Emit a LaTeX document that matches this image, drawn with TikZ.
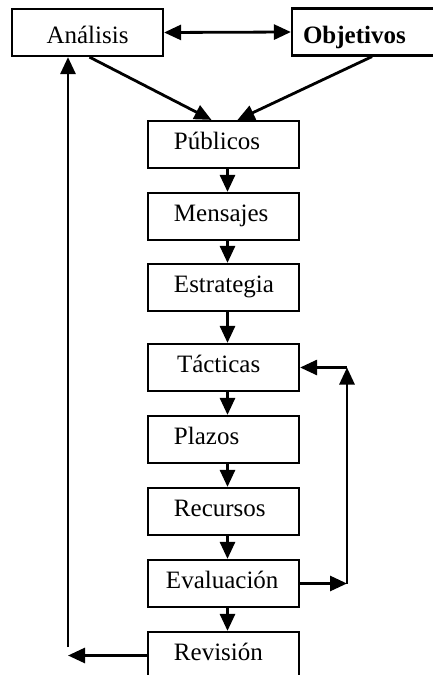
\documentclass[tikz,border=0pt]{standalone}
\usepackage{fontspec}
\setmainfont{Liberation Serif}
\usetikzlibrary{arrows.meta}
\begin{document}
\begin{tikzpicture}
[x=0.5pt,y=-0.5pt,
  boxDecorate/.style={shape=rectangle,draw,line width=1.1pt,inner sep=0pt,
    minimum width=75.5pt,minimum height=23.5pt,text width=75.5pt,align=left,
    text height=8pt,text depth=3pt,font=\fontsize{12.5}{15}\selectfont},%
  topDecorate/.style={boxDecorate,text height=11pt,text depth=0pt},%
  arrowDecorate/.style={-{Triangle[length=8.5pt,width=7.5pt]},line width=1.4pt}]
\useasboundingbox (0,0) rectangle (433,675);
%% nodes or boxes
\node (analisis) at (87.5,32.5) [topDecorate,align=center] {Análisis};
\node (objetivos) at (381,32) [topDecorate,minimum width=89pt,text width=89pt]
  {\hspace*{5.5pt}\textbf{Objetivos}};
\foreach \nodename/\y/\shift/\nodetext in {
  publicos/144.5/13pt/Públicos, mensajes/216.5/13pt/Mensajes,
  estrategia/287.5/13pt/Estrategia, tacticas/367.5/14.5pt/Tácticas,
  plazos/439.5/13pt/Plazos, recursos/511.5/13pt/Recursos,
  evaluacion/583.5/9pt/Evaluación, revision/655.5/13pt/Revisión}
{
  \node (\nodename) at (223.5,\y) [boxDecorate] {\hspace*{\shift}\nodetext};
}
\coordinate (loopBottom) at (347,583.5);
\coordinate (loopTop) at (347,367.5);
\coordinate (backEnd) at (68,655.5);
\coordinate (backStart) at (68,647);
%% edges or arrows
\draw[arrowDecorate,{Triangle[length=8.5pt,width=7.5pt]}-{Triangle[length=8.5pt,width=7.5pt]}]
  (analisis.east) -- (objetivos.west);
\draw[arrowDecorate] ([xshift=1pt]analisis.south) -- ([xshift=-6pt]publicos.north);
\draw[arrowDecorate] ([xshift=-4.5pt]objetivos.south) -- ([xshift=7pt]publicos.north);
\path
\foreach \startnode/\endnode in {
  publicos/mensajes, mensajes/estrategia, estrategia/tacticas, tacticas/plazos,
  plazos/recursos, recursos/evaluacion, evaluacion/revision}
{
  ([xshift=2pt]\startnode.south) edge[arrowDecorate] ([xshift=2pt]\endnode.north)
};
\draw[arrowDecorate] (evaluacion.east) -- (loopBottom);
\draw[arrowDecorate] (loopBottom) -- (loopTop);
\draw[arrowDecorate] (loopTop) -- (tacticas.east);
\draw[arrowDecorate] (revision.west) -- (backEnd);
\draw[arrowDecorate] (backStart) -- (backStart |- analisis.south);
\end{tikzpicture}
\end{document}
